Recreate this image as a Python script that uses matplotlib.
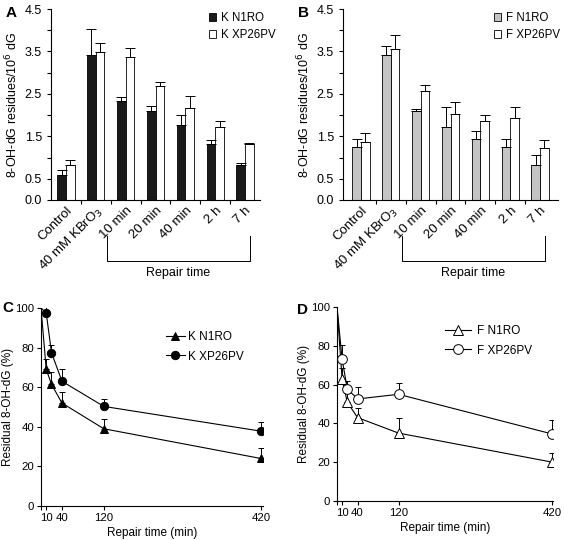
import numpy as np
import matplotlib
matplotlib.use("Agg")
import matplotlib.pyplot as plt
from matplotlib.transforms import blended_transform_factory

plt.rcParams["font.family"] = ["Liberation Sans", "DejaVu Sans"]
plt.rcParams["font.size"] = 9
plt.rcParams["axes.linewidth"] = 0.8
plt.rcParams["xtick.major.size"] = 3
plt.rcParams["ytick.major.size"] = 3

# --- bar panels (A, B) ---
groups = ["Control", "40 mM KBrO$_3$", "10 min", "20 min", "40 min", "2 h", "7 h"]
k_n1ro = [0.59, 3.41, 2.33, 2.09, 1.77, 1.32, 0.83]
k_n1ro_err = [0.11, 0.63, 0.10, 0.12, 0.23, 0.09, 0.04]
k_xp = [0.83, 3.49, 3.38, 2.68, 2.17, 1.73, 1.31]
k_xp_err = [0.11, 0.21, 0.21, 0.10, 0.28, 0.14, 0.04]
f_n1ro = [1.25, 3.41, 2.09, 1.71, 1.44, 1.25, 0.82]
f_n1ro_err = [0.18, 0.23, 0.05, 0.48, 0.18, 0.18, 0.25]
f_xp = [1.36, 3.55, 2.57, 2.03, 1.85, 1.93, 1.23]
f_xp_err = [0.23, 0.33, 0.15, 0.27, 0.15, 0.26, 0.19]
yticks_bar = [0, 0.5, 1, 1.5, 2, 2.5, 3, 3.5, 4, 4.5]
ylabels_bar = ["0.0", "0.5", "", "1.5", "", "2.5", "", "3.5", "", "4.5"]

# --- line panels (C, D) ---
time = [0, 10, 20, 40, 120, 420]
kc_n1ro = [100, 69, 61.5, 52, 39, 24]
kc_n1ro_err = [0, 5.4, 6, 5.5, 5, 5.3]
kc_xp = [100, 97.5, 77.5, 63, 50.3, 37.8]
kc_xp_err = [0, 3.3, 3.7, 6.2, 3.8, 4.6]
fd_n1ro = [100, 62.8, 51, 43, 35, 20]
fd_n1ro_err = [0, 6, 4.5, 5, 8, 5]
fd_xp = [100, 73, 57.8, 52.6, 55, 34.5]
fd_xp_err = [0, 7.5, 4.3, 6.4, 6, 7.2]
xticks_line = [10, 40, 120, 420]

W, H = 564, 540
FS = 9      # bar panels
FL = 8.2    # line panels
fig = plt.figure(figsize=(W / 100, H / 100), dpi=100)


def px_axes(l, t, r, b):
    return fig.add_axes([l / W, 1 - b / H, (r - l) / W, (b - t) / H])


def px(x, y):
    return (x / W, 1 - y / H)


def bar_panel(ax, v1, e1, v2, e2, c1, lab1, lab2, xlim, leg_xy):
    x = np.arange(len(groups))
    w = 0.29
    n = len(groups)
    ax.bar(x - w / 2, v1, w, color=c1, edgecolor="black", lw=0.6,
           yerr=[np.zeros(n), e1], capsize=3.5, error_kw=dict(lw=0.7, capthick=0.7),
           label=lab1)
    ax.bar(x + w / 2, v2, w, color="white", edgecolor="black", lw=0.6,
           yerr=[np.zeros(n), e2], capsize=3.5, error_kw=dict(lw=0.7, capthick=0.7),
           label=lab2)
    ax.set_xlim(*xlim)
    ax.set_ylim(0, 4.5)
    ax.set_yticks(yticks_bar)
    ax.set_yticklabels(ylabels_bar, fontsize=FS)
    ax.set_xticks(x[:-1] + 0.5)
    ax.set_xticklabels([])
    ax.set_xticks(x, minor=True)
    ax.set_xticklabels(groups, minor=True, rotation=45, ha="right",
                       rotation_mode="anchor", fontsize=9.5)
    ax.tick_params(axis="x", which="minor", length=0, pad=3)
    for s in ("top", "right"):
        ax.spines[s].set_visible(False)
    ax.set_ylabel("8-OH-dG residues/10$^6$ dG", fontsize=FS, labelpad=3)
    ax.legend(loc="upper left", bbox_to_anchor=px(*leg_xy),
              bbox_transform=fig.transFigure, frameon=False, borderpad=0,
              handlelength=0.65, handleheight=0.65, handletextpad=0.4,
              labelspacing=0.45, fontsize=8.3)
    # repair-time bracket
    tr = blended_transform_factory(ax.transData, ax.transAxes)
    ax.plot([1.37, 1.37, 6.15, 6.15], [-0.19, -0.32, -0.32, -0.19], color="black",
            lw=0.7, transform=tr, clip_on=False)
    ax.text(3.76, -0.38, "Repair time", transform=tr, ha="center", va="center",
            fontsize=FS)


def line_panel(ax, v1, e1, v2, e2, filled, lab1, lab2, xlim, leg_xy, hl, htp):
    fc = "black" if filled else "white"
    ms1, ms2 = (5.5, 6) if filled else (6.5, 7)
    ax.plot(time, v1, color="black", lw=0.8, marker="^", ms=ms1, mfc=fc,
            mec="black", mew=0.7, markevery=slice(1, None), label=lab1, zorder=3)
    ax.errorbar(time[1:], v1[1:], yerr=[np.zeros(5), e1[1:]], fmt="none",
                ecolor="black", lw=0.7, capsize=2, capthick=0.7, zorder=2)
    ax.plot(time, v2, color="black", lw=0.8, marker="o", ms=ms2, mfc=fc,
            mec="black", mew=0.7, markevery=slice(1, None), label=lab2, zorder=3)
    ax.errorbar(time[1:], v2[1:], yerr=[np.zeros(5), e2[1:]], fmt="none",
                ecolor="black", lw=0.7, capsize=2, capthick=0.7, zorder=2)
    ax.set_xlim(*xlim)
    ax.set_ylim(0, 100)
    ax.set_xticks([0] + xticks_line)
    ax.set_xticklabels([""] + [str(t) for t in xticks_line], fontsize=FL)
    ax.set_yticks(range(0, 101, 20))
    ax.tick_params(labelsize=FL, pad=2)
    for s in ("top", "right"):
        ax.spines[s].set_visible(False)
    ax.set_xlabel("Repair time (min)", fontsize=8.5, labelpad=3)
    ax.set_ylabel("Residual 8-OH-dG (%)", fontsize=8.5, labelpad=1)
    ax.legend(loc="upper left", bbox_to_anchor=px(*leg_xy),
              bbox_transform=fig.transFigure, frameon=False, borderpad=0,
              handlelength=hl, handletextpad=htp, labelspacing=0.65, fontsize=8.5)


axA = px_axes(51, 9, 260, 200)
bar_panel(axA, k_n1ro, k_n1ro_err, k_xp, k_xp_err, "#1a1a1a",
          "K N1RO", "K XP26PV", (-0.5, 6.5), (203, 6))
axB = px_axes(343, 9, 558, 200)
bar_panel(axB, f_n1ro, f_n1ro_err, f_xp, f_xp_err, "#c4c4c4",
          "F N1RO", "F XP26PV", (-0.6, 6.6), (488, 6))

axC = px_axes(41, 308, 263, 506)
line_panel(axC, kc_n1ro, kc_n1ro_err, kc_xp, kc_xp_err, True,
           "K N1RO", "K XP26PV", (0, 424), (160, 325), 1.6, 0.3)
axD = px_axes(337, 307, 553, 501)
line_panel(axD, fd_n1ro, fd_n1ro_err, fd_xp, fd_xp_err, False,
           "F N1RO", "F XP26PV", (0, 421), (439, 319), 2.2, 0.55)

for lbl, x, y in (("A", 6, 13), ("B", 298, 13), ("C", 2, 308), ("D", 297, 310)):
    fig.text(*px(x, y), lbl, fontsize=11, fontweight="bold",
             ha="left", va="center")

fig.savefig("out.png", dpi=100)
